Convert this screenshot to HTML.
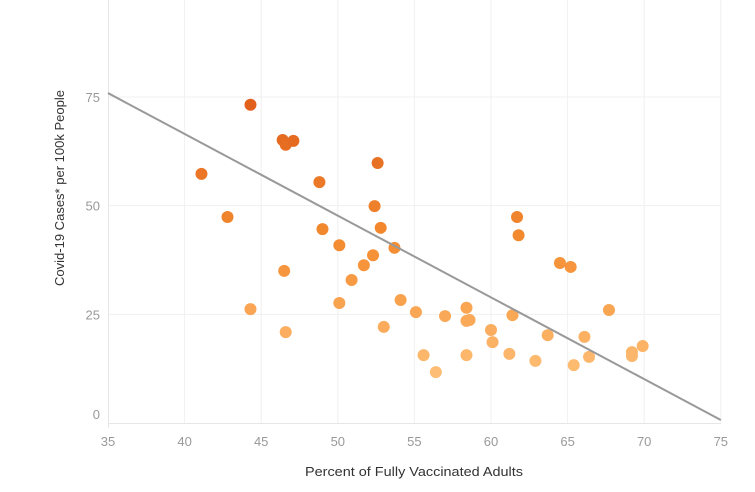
<!DOCTYPE html>
<html><head><meta charset="utf-8"><style>
body{margin:0;background:#fff;font-family:"Liberation Sans",sans-serif}
svg text{font-family:"Liberation Sans",sans-serif}
</style></head><body>
<svg id="chart" width="755" height="487" viewBox="0 0 755 487">
<g id="grid"></g>
<g id="axes"></g>
<g id="pts"></g>
<text x="414" y="476" text-anchor="middle" font-size="13" fill="#333" textLength="218" lengthAdjust="spacingAndGlyphs">Percent of Fully Vaccinated Adults</text>
<text transform="translate(64,188) rotate(-90)" text-anchor="middle" font-size="13" fill="#333" textLength="196" lengthAdjust="spacingAndGlyphs">Covid-19 Cases* per 100k People</text>
</svg>
<script>
const xTicks=[35,40,45,50,55,60,65,70,75];
const yTicks=[0,25,50,75];
const xVals=[44.3,41.1,42.8,46.4,46.6,47.1,48.8,52.6,52.4,49.0,52.8,50.1,53.7,52.3,51.7,50.9,46.5,61.7,61.8,64.5,65.2,67.7,44.3,46.6,50.1,54.1,53.0,55.1,57.0,58.4,58.4,58.6,61.4,60.0,60.1,55.6,56.4,58.4,61.2,62.9,63.7,66.1,66.4,65.4,69.2,69.2,69.9];
const yVals=[73.2,57.3,47.4,65.1,64.0,64.9,55.4,59.8,49.9,44.6,44.9,40.9,40.3,38.6,36.3,32.9,35.0,47.4,43.2,36.8,35.9,26.0,26.2,20.9,27.6,28.3,22.1,25.5,24.6,26.5,23.5,23.7,24.8,21.4,18.6,15.6,11.7,15.6,15.9,14.3,20.2,19.8,15.2,13.3,16.3,15.4,17.7];
const trend=[[35,75.9],[75,0.7]];
const NS="http://www.w3.org/2000/svg";
const X=v=>108+(v-35)*15.32;
const Y=v=>423-v*4.347;
function mk(t,a,p){const e=document.createElementNS(NS,t);for(const k in a)e.setAttribute(k,a[k]);p.appendChild(e);return e;}
const grid=document.getElementById('grid'),axes=document.getElementById('axes'),pts=document.getElementById('pts');
xTicks.forEach(t=>{
 if(t>35){const l=mk('line',{x1:X(t),x2:X(t),y1:0,y2:423,stroke:'#f0f0f0','stroke-width':1},grid);
 
 }
 const tx=mk('text',{x:X(t),y:446,'text-anchor':'middle','font-size':13,fill:'#999'},axes);tx.textContent=t;
 
 
});
yTicks.forEach(t=>{
 if(t>0){const l=mk('line',{x1:108,x2:721,y1:Y(t),y2:Y(t),stroke:'#f0f0f0','stroke-width':1},grid);
 
 }
 const tx=mk('text',{x:100,y:Y(t)+(t==0?-4:5),'text-anchor':'end','font-size':13,fill:'#999'},axes);tx.textContent=t;
 
 
});
const ax=mk('line',{x1:108,x2:721,y1:423.5,y2:423.5,stroke:'#e6e6e6'},axes);


const ay=mk('line',{x1:108.5,x2:108.5,y1:0,y2:428,stroke:'#e6e6e6'},axes);


function col(v){const t=Math.max(0,Math.min(1,(v-10)/63));
 const s=[[254,192,120],[244,140,48],[224,96,28]];
 let a,b,u;if(t<0.5){a=s[0];b=s[1];u=t/0.5;}else{a=s[1];b=s[2];u=(t-0.5)/0.5;}
 return 'rgb('+a.map((c,i)=>Math.round(c+(b[i]-c)*u)).join(',')+')';}
xVals.forEach((xv,i)=>{
 const c=mk('circle',{cx:X(xv),cy:Y(yVals[i]),r:6,fill:col(yVals[i])},pts);
 
 
});
const tl=mk('line',{x1:X(trend[0][0]),y1:Y(trend[0][1]),x2:X(trend[1][0]),y2:Y(trend[1][1]),stroke:'#999','stroke-width':2},document.getElementById('chart'));


</script>
</body></html>
